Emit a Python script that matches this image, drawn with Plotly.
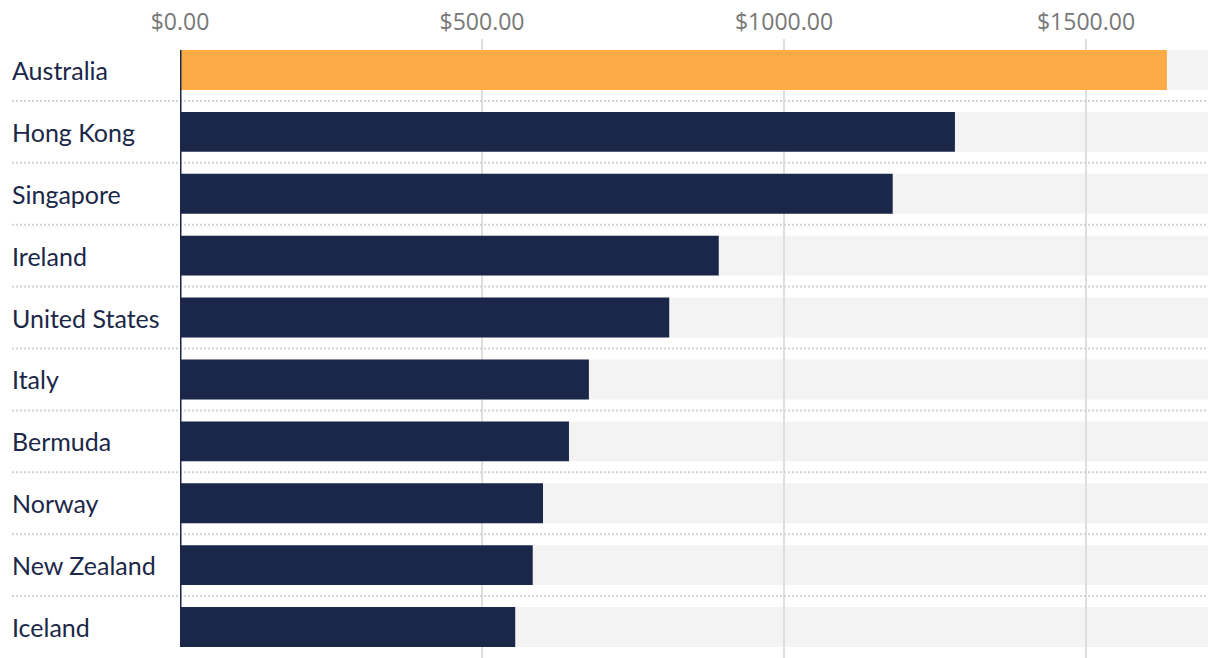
import plotly.graph_objects as go

countries = ["Australia", "Hong Kong", "Singapore", "Ireland", "United States",
             "Italy", "Bermuda", "Norway", "New Zealand", "Iceland"]
values = [1634, 1283, 1180, 892, 810, 677, 644, 601, 584, 555]
tick_vals = [0, 500, 1000, 1500]
tick_text = ["$0.00", "$500.00", "$1000.00", "$1500.00"]
x_max = 1702

NAVY = "#1b2748"
ORANGE = "#fdab47"
colors = [ORANGE] + [NAVY] * (len(countries) - 1)

fig = go.Figure()
fig.add_trace(go.Bar(
    y=countries, x=values, orientation="h",
    marker=dict(color=colors, line=dict(width=0)),
    width=0.645, hoverinfo="x+y",
))

LABEL_X = -170 / 1028
shapes = []
n = len(countries)
for i in range(n):
    # gray background bar (below gridlines)
    shapes.append(dict(type="rect", xref="x", yref="y", layer="below",
                       x0=0, x1=x_max, y0=i - 0.3225, y1=i + 0.3225,
                       fillcolor="#f3f3f3", line=dict(width=0)))
for i in range(n - 1):
    shapes.append(dict(type="line", xref="paper", yref="y", layer="above",
                       x0=-168 / 1028, x1=1, y0=i + 0.5, y1=i + 0.5,
                       line=dict(color="#d3d3d3", width=2, dash="2px,2px")))
# vertical axis line at zero
shapes.append(dict(type="line", xref="x", yref="y", layer="above",
                   x0=0, x1=0, y0=-0.3225, y1=n - 1 + 0.3225,
                   line=dict(color=NAVY, width=3)))

annotations = []
for c in countries:
    annotations.append(dict(xref="paper", yref="y", x=LABEL_X, y=c,
                            text=c, showarrow=False, xanchor="left",
                            yanchor="middle",
                            font=dict(family="Lato, sans-serif", size=25, color=NAVY)))

fig.update_layout(
    width=1220, height=658,
    margin=dict(l=180, r=12, t=39, b=0, autoexpand=False),
    paper_bgcolor="white", plot_bgcolor="white",
    showlegend=False,
    shapes=shapes, annotations=annotations,
    xaxis=dict(side="top", range=[0, x_max], tickvals=tick_vals,
               ticktext=tick_text, automargin=False,
               showgrid=True, gridcolor="#dedede", gridwidth=2,
               zeroline=False, showline=False, ticks="",
               ticklabelstandoff=3,
               tickfont=dict(family="Open Sans, sans-serif", size=23, color="#777777"),
               fixedrange=True),
    yaxis=dict(showticklabels=False, autorange=False, range=[n - 0.5, -0.5],
               automargin=False,
               showgrid=False, zeroline=False, showline=False, ticks="",
               fixedrange=True),
)

fig.write_html("out.html",
               config={"displayModeBar": False},
               post_script="document.body.style.margin='0';document.body.style.overflow='hidden';")
